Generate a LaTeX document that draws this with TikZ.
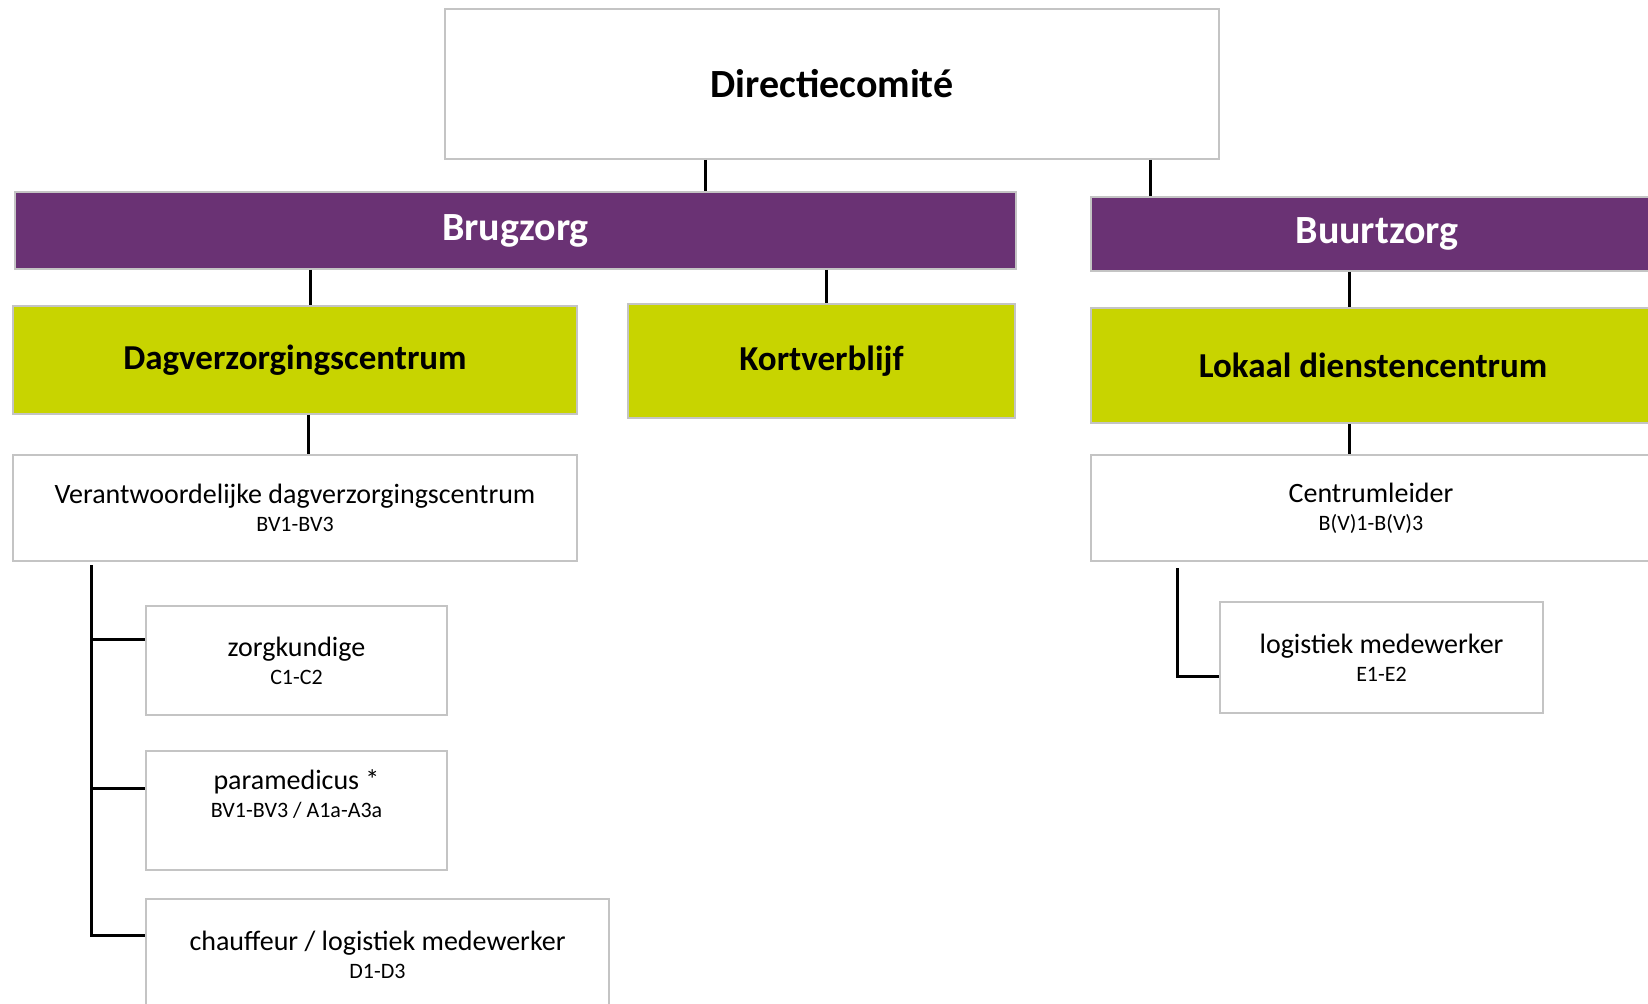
\documentclass[tikz,border=0pt]{standalone}
\usepackage{fontspec}
\setmainfont{Carlito}
\definecolor{paars}{HTML}{6A3274}
\definecolor{geel}{HTML}{C8D400}
\definecolor{rand}{HTML}{C4C4C4}
\begin{document}
\begin{tikzpicture}[x=0.5pt,y=-0.5pt,
  box/.style={draw=rand,line width=0.8pt,fill=white,inner sep=0pt,align=center},
  pbox/.style={box,fill=paars,text=white,font=\bfseries\fontsize{20}{24}\selectfont},
  gbox/.style={box,fill=geel,font=\bfseries\fontsize{17.5}{21}\selectfont},
  wbox/.style={box,font=\fontsize{14}{15}\selectfont},
  txt/.style={inner sep=0pt,align=center,font=\fontsize{14}{15}\selectfont},
  conn/.style={line width=1.5pt,black}]
\useasboundingbox (0,0) rectangle (1648,1003);
% nodes
\node[box,font=\bfseries\fontsize{20}{24}\selectfont,minimum width=387pt,minimum height=75pt] (dir) at (832,84) {Directiecomit\'e};
\node[pbox,minimum width=500.5pt,minimum height=38.5pt] (brug) at (515.5,230.5) {\raisebox{-1.5pt}{Brugzorg}};
\node[pbox,minimum width=286pt,minimum height=37pt] (buurt) at (1377,234) {\raisebox{-1.5pt}{Buurtzorg}};
\node[gbox,minimum width=282pt,minimum height=54pt] (dag) at (295,360) {\raisebox{-1.5pt}{Dagverzorgingscentrum}};
\node[gbox,minimum width=193.5pt,minimum height=57pt] (kort) at (821.5,361) {Kortverblijf};
\node[gbox,minimum width=282pt,minimum height=57.5pt] (lok) at (1373,365.5) {Lokaal dienstencentrum};
\node[wbox,minimum width=282pt,minimum height=53pt] (ver) at (295,508) {Verantwoordelijke dagverzorgingscentrum\\[-1pt]{\fontsize{11}{13}\selectfont BV1-BV3}};
\node[wbox,minimum width=280pt,minimum height=53pt] (cen) at (1371,508) {Centrumleider\\[-1pt]{\fontsize{11}{13}\selectfont B(V)1-B(V)3}};
\node[wbox,minimum width=150.5pt,minimum height=54.5pt] (zorg) at (296.5,660.5) {zorgkundige\\[-1pt]{\fontsize{11}{13}\selectfont C1-C2}};
\node[box,minimum width=150.5pt,minimum height=59.5pt] (para) at (296.5,810.5) {};
\node[txt] (paraT) at (296.5,794) {paramedicus *\\[-1pt]{\fontsize{11}{13}\selectfont BV1-BV3 / A1a-A3a}};
\node[box,minimum width=231.5pt,minimum height=57pt] (chauf) at (377.5,956) {};
\node[txt] (chaufT) at (377.5,955) {chauffeur / logistiek medewerker\\[-1pt]{\fontsize{11}{13}\selectfont D1-D3}};
\node[wbox,minimum width=161.5pt,minimum height=55.5pt] (log) at (1381.5,657.5) {logistiek medewerker\\[-1pt]{\fontsize{11}{13}\selectfont E1-E2}};
% connector x positions
\coordinate (x1) at (705,0);
\coordinate (x2) at (1150,0);
\coordinate (x3) at (310,0);
\coordinate (x4) at (826,0);
\coordinate (x5) at (1349,0);
\coordinate (x6) at (308,0);
\coordinate (tr) at (91,565);
\coordinate (b1) at (91,639);
\coordinate (b2) at (91,788);
\coordinate (b3) at (91,935);
\coordinate (lt) at (1177,568);
\coordinate (lb) at (1177,676);
% connectors
\draw[conn] (dir.south -| x1) -- (brug.north -| x1);
\draw[conn] (dir.south -| x2) -- (buurt.north -| x2);
\draw[conn] (brug.south -| x3) -- (dag.north -| x3);
\draw[conn] (brug.south -| x4) -- (kort.north -| x4);
\draw[conn] (buurt.south -| x5) -- (lok.north -| x5);
\draw[conn] (dag.south -| x6) -- (ver.north -| x6);
\draw[conn] (lok.south -| x5) -- (cen.north -| x5);
\draw[conn] (tr) -- (b3) -- (chauf.west |- b3);
\draw[conn] (b1) -- (zorg.west |- b1);
\draw[conn] (b2) -- (para.west |- b2);
\draw[conn] (lt) -- (lb) -- (log.west |- lb);
\end{tikzpicture}
\end{document}
